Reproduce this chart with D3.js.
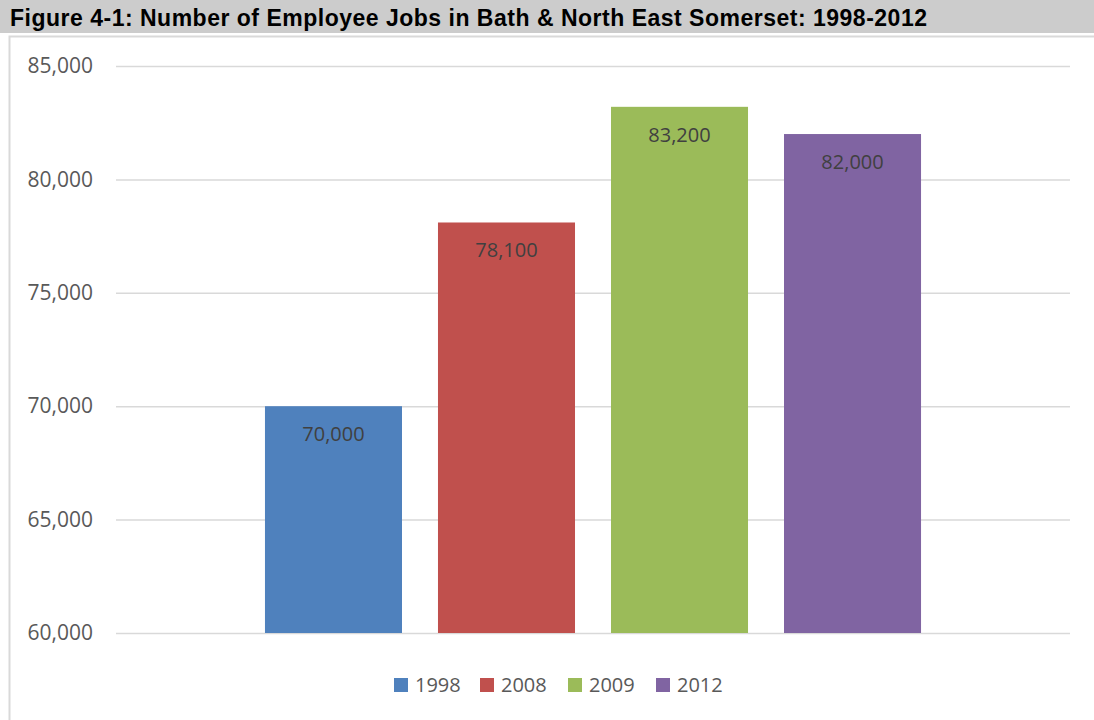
<!DOCTYPE html>
<html>
<head>
<meta charset="utf-8">
<script src="https://cdn.jsdelivr.net/npm/d3@7"></script>
<style>
  html, body { margin: 0; padding: 0; background: #ffffff; }
  svg { display: block; }
</style>
</head>
<body>
<svg id="chart" width="1094" height="720"></svg>
<script>
// Employee jobs in Bath & North East Somerset, by year
const years = ["1998", "2008", "2009", "2012"];
const jobs = [70000, 78100, 83200, 82000];
const barColors = ["#4F81BD", "#C0504D", "#9BBB59", "#8064A2"];
const yTicks = [60000, 65000, 70000, 75000, 80000, 85000];
const titleText = "Figure 4-1: Number of Employee Jobs in Bath & North East Somerset: 1998-2012";

const svg = d3.select("#chart");
const W = 1094, H = 720;

// Title band
svg.append("rect").attr("x", 0).attr("y", 0).attr("width", W).attr("height", 33)
  .attr("fill", "#cccccc");
svg.append("text").attr("x", 10).attr("y", 26)
  .attr("font-family", "Liberation Sans, Arial, sans-serif")
  .attr("font-weight", "bold").attr("font-size", 23)
  .attr("textLength", 917).attr("lengthAdjust", "spacing")
  .attr("fill", "#000000")
  .text(titleText);

// Chart frame
svg.append("path")
  .attr("d", `M9.5,${H} L9.5,36.5 L${W},36.5`)
  .attr("fill", "none").attr("stroke", "#d9d9d9").attr("stroke-width", 2);

// Plot area
const plot = { left: 116, right: 1070, top: 66, bottom: 633 };

const y = d3.scaleLinear().domain([60000, 85000]).range([plot.bottom, plot.top]);
const x = d3.scaleBand().domain(years).range([plot.left, plot.right])
  .paddingInner(0.208).paddingOuter(0.861);

const fmt = d3.format(",");

// Gridlines and tick labels via axis
const yAxis = d3.axisLeft(y).tickValues(yTicks).tickFormat(fmt)
  .tickSize(-(plot.right - plot.left)).tickPadding(23);
const gy = svg.append("g").attr("transform", `translate(${plot.left},0)`).call(yAxis);
gy.select(".domain").remove();
gy.selectAll(".tick line").attr("stroke", "#d9d9d9").attr("stroke-width", 1.5);
gy.selectAll(".tick text")
  .attr("font-family", "Open Sans, sans-serif").attr("font-size", 21)
  .attr("fill", "#595959");

// Bars
const data = years.map((yr, i) => ({ year: yr, value: jobs[i], color: barColors[i] }));
svg.append("g").selectAll("rect").data(data).join("rect")
  .attr("x", d => x(d.year))
  .attr("y", d => y(d.value))
  .attr("width", x.bandwidth())
  .attr("height", d => y(60000) - y(d.value))
  .attr("fill", d => d.color);

// Value labels inside the top of each bar
svg.append("g").selectAll("text").data(data).join("text")
  .attr("x", d => x(d.year) + x.bandwidth() / 2)
  .attr("y", d => y(d.value) + 35)
  .attr("text-anchor", "middle")
  .attr("font-family", "Open Sans, sans-serif").attr("font-size", 20)
  .attr("fill", "#404040")
  .text(d => fmt(d.value));

// Legend
const legendX = [394, 480, 568, 656];
const lg = svg.append("g").selectAll("g").data(data).join("g")
  .attr("transform", (d, i) => `translate(${legendX[i]},678)`);
lg.append("rect").attr("width", 14).attr("height", 14).attr("fill", d => d.color);
lg.append("text").attr("x", 21).attr("y", 14)
  .attr("font-family", "Open Sans, sans-serif").attr("font-size", 20)
  .attr("fill", "#595959")
  .text(d => d.year);
</script>
</body>
</html>
